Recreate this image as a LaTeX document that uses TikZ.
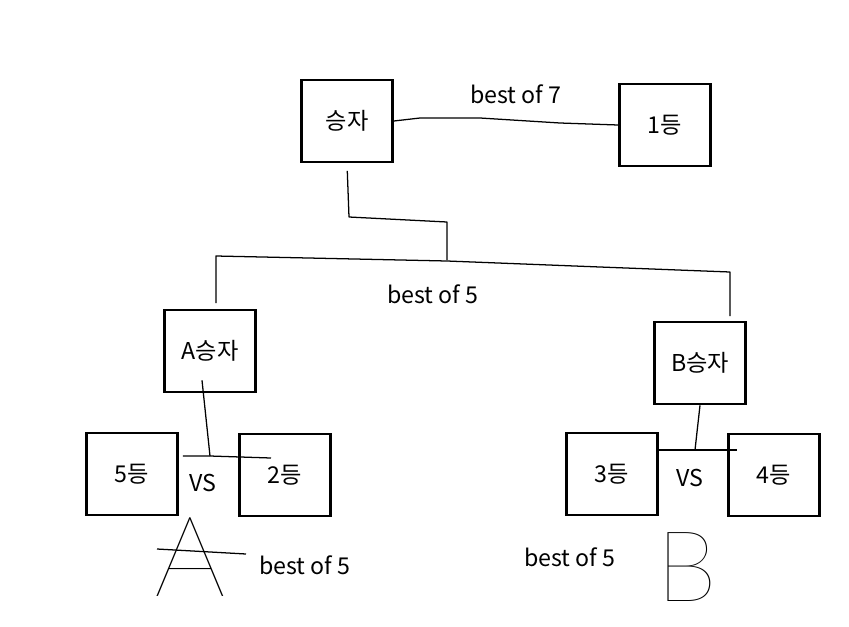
\documentclass[tikz,border=0pt]{standalone}
\usepackage{fontspec}
\setmainfont{Noto Sans CJK KR}
\newfontfamily\thinhand{Lato}[UprightFont=* Hairline]
\begin{document}
\begin{tikzpicture}[x=0.025cm,y=-0.025cm,
	box/.style={draw,line width=1.8pt,minimum width=2.275cm,minimum height=2.05cm,inner sep=0pt,font=\fontsize{16.5}{18}\selectfont},
	tag/.style={inner sep=1pt,font=\fontsize{16.5}{18}\selectfont},
	hand/.style={inner sep=0pt,font=\thinhand},
	wire/.style={line width=0.9pt,line join=round}]
	\useasboundingbox[fill=white] (0,0) rectangle (849,626);
	
	%final
	\node[box] (win) at (347,121){승자};
	\node[box] (first) at (665,125){1등};
	\node[tag] (bo7) at (516,94){best of 7};
	\draw[wire] (win.east) -- (420,118) -- (480,118) -- (560,123) -- (first.west);
	
	%semi final
	\node[box] (aw) at (210,351){A승자};
	\node[box] (bw) at (700,363){B승자};
	\node[tag] (bo5) at (433,294){best of 5};
	\coordinate (at) at (216,303);
	\coordinate (bt) at (730,316);
	\draw[wire,shorten <=6\pgflinewidth] (win.south) -- (349,217) -- (447,222) -- (447,260);
	\draw[wire] (at) -- (216,256) -- (447,261) -- (600,267) -- (730,272) -- (bt);
	
	%group A
	\node[box] (b5) at (132,474){5등};
	\node[box] (b2) at (285,475){2등};
	\coordinate (aj) at (210,456);
	\draw[wire] (aw.south) ++(-8,-13) -- (aj);
	\draw[wire] (b5.east |- aj) ++(4,0) -- (aj) -- (271,458);
	\node[tag] (avs) at (203,483){VS};
	\node[hand,font=\thinhand\fontsize{80}{86}\selectfont] (biga) at (190,557){A};
	\node[tag] (boa) at (305,565){best of 5};
	\draw[wire] (157,549) -- (246,554);
	
	%group B
	\node[box] (b3) at (612,474){3등};
	\node[box] (b4) at (774,475){4등};
	\coordinate (bj) at (695,450);
	\draw[wire] (bw.south) -- (bj);
	\draw[wire] (b3.east |- bj) -- (bj) -- (737,450);
	\node[tag] (bvs) at (690,478){VS};
	\node[hand,font=\thinhand\fontsize{70}{76}\selectfont] (bigb) at (687,567){B};
	\node[tag] (bob) at (570,557){best of 5};
\end{tikzpicture}
\end{document}
